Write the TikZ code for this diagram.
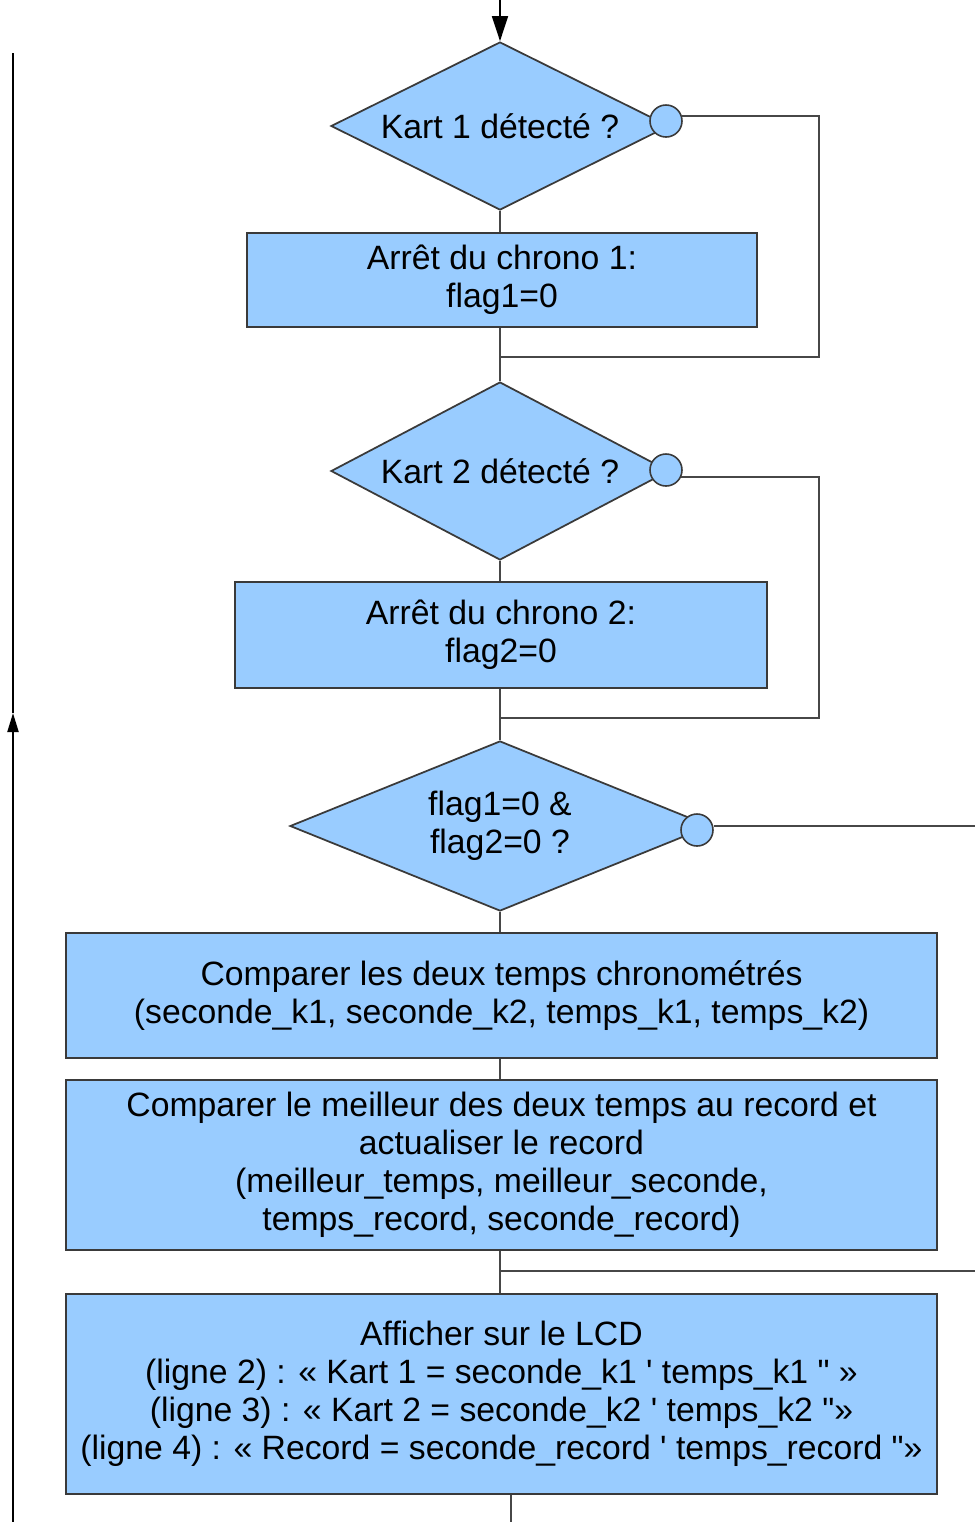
\documentclass[tikz,border=0pt]{standalone}
\usepackage{fontspec}
\setmainfont{Liberation Sans}
\usetikzlibrary{shapes.geometric,arrows.meta}
\definecolor{boxblue}{HTML}{99CCFF}
\definecolor{edgegray}{HTML}{3A3A3A}
\definecolor{linegray}{HTML}{474747}

\begin{document}
\begin{tikzpicture}[
		scale=1,
		every node/.style={font=\fontsize{19.2}{21.7}\selectfont, align=center, inner sep=0pt},
		decision/.style={diamond, draw=edgegray, fill=boxblue, line width=1pt, shape aspect=2},
		action/.style={rectangle, draw=edgegray, fill=boxblue, line width=1.1pt},
		exit/.style={circle, draw=edgegray, fill=boxblue, line width=0.9pt, minimum size=0.64cm},
		flow/.style={draw=linegray, line width=1.2pt},
		tip/.style={-{Triangle[length=0.5cm, width=0.32cm]}}
	]
  \useasboundingbox (0cm, 0cm) rectangle (19.5cm, -30.44cm);
  \coordinate (start) at (10cm, 0cm);
  \node (d1) [decision, minimum width=6.76cm, minimum height=3.36cm] at (10cm, -2.52cm) {Kart 1 détecté ?};
  \node (c1) [exit] at (13.32cm, -2.42cm) {};
  \node (b1) [action, minimum width=10.2cm, minimum height=1.88cm] at (10.04cm, -5.6cm) {Arrêt du chrono 1:\\flag1=0};
  \node (d2) [decision, minimum width=6.76cm, minimum height=3.56cm] at (10cm, -9.42cm) {Kart 2 détecté ?};
  \node (c2) [exit] at (13.32cm, -9.4cm) {};
  \node (b2) [action, minimum width=10.64cm, minimum height=2.12cm] at (10.02cm, -12.7cm) {Arrêt du chrono 2:\\flag2=0};
  \node (d3) [decision, minimum width=8.4cm, minimum height=3.4cm] at (10cm, -16.52cm) {flag1=0 \&\\flag2=0 ?};
  \node (c3) [exit] at (13.94cm, -16.6cm) {};
  \node (b3) [action, minimum width=17.42cm, minimum height=2.5cm] at (10.03cm, -19.91cm) {Comparer les deux temps chronométrés\\(seconde\_k1, seconde\_k2, temps\_k1, temps\_k2)};
  \node (b4) [action, minimum width=17.42cm, minimum height=3.4cm] at (10.03cm, -23.3cm) {Comparer le meilleur des deux temps au record et\\actualiser le record\\(meilleur\_temps, meilleur\_seconde,\\temps\_record, seconde\_record)};
  \node (b5) [action, minimum width=17.42cm, minimum height=4cm] at (10.03cm, -27.88cm) {Afficher sur le LCD\\(ligne 2) : « Kart 1 = seconde\_k1 \textquotesingle{} temps\_k1 \textquotedbl{} »\\(ligne 3) : « Kart 2 = seconde\_k2 \textquotesingle{} temps\_k2 \textquotedbl»\\(ligne 4) : « Record = seconde\_record \textquotesingle{} temps\_record \textquotedbl»};
  \coordinate (k1a) at (16.38cm, -2.32cm);
  \coordinate (k1b) at (16.38cm, -7.14cm);
  \coordinate (k2a) at (16.38cm, -9.54cm);
  \coordinate (k2b) at (16.38cm, -14.36cm);
  \coordinate (k3) at (19.5cm, -16.52cm);
  \coordinate (k4) at (19.5cm, -25.42cm);
  \coordinate (end) at (10.22cm, -30.44cm);
  \coordinate (back_bottom) at (0.26cm, -30.44cm);
  \coordinate (back_mid) at (0.26cm, -14.26cm);
  \coordinate (back_top) at (0.26cm, -1.06cm);
  % main column
  \draw [flow, tip, draw=black, line width=0.9pt] (start) -- (d1.north);
  \draw [flow] (d1.south) -- (d1.south |- b1.north);
  \draw [flow] (b1.south -| d2.north) -- (d2.north);
  \draw [flow] (d2.south) -- (d2.south |- b2.north);
  \draw [flow] (b2.south -| d3.north) -- (d3.north);
  \draw [flow] (d3.south) -- (d3.south |- b3.north);
  \draw [flow] (b3.south -| d3.south) -- (d3.south |- b4.north);
  \draw [flow] (b4.south -| d3.south) -- (d3.south |- b5.north);
  \draw [flow] (b5.south -| end) -- (end);
  % side branches
  \draw [flow] (c1.18) -- (c1.18 -| k1a) -- (k1b) -- (k1b -| d1.south);
  \draw [flow] (c2.-25) -- (c2.-25 -| k2a) -- (k2b) -- (k2b -| d2.south);
  \draw [flow] (c3.east |- k3) -- (k3);
  \draw [flow] (k4 -| d3.south) -- (k4);
  % loop back
  \draw [flow, draw=black, -{Triangle[length=0.38cm, width=0.22cm]}] (back_bottom) -- (back_mid);
  \draw [flow, draw=black] (back_mid) -- (back_top);
\end{tikzpicture}
\end{document}
